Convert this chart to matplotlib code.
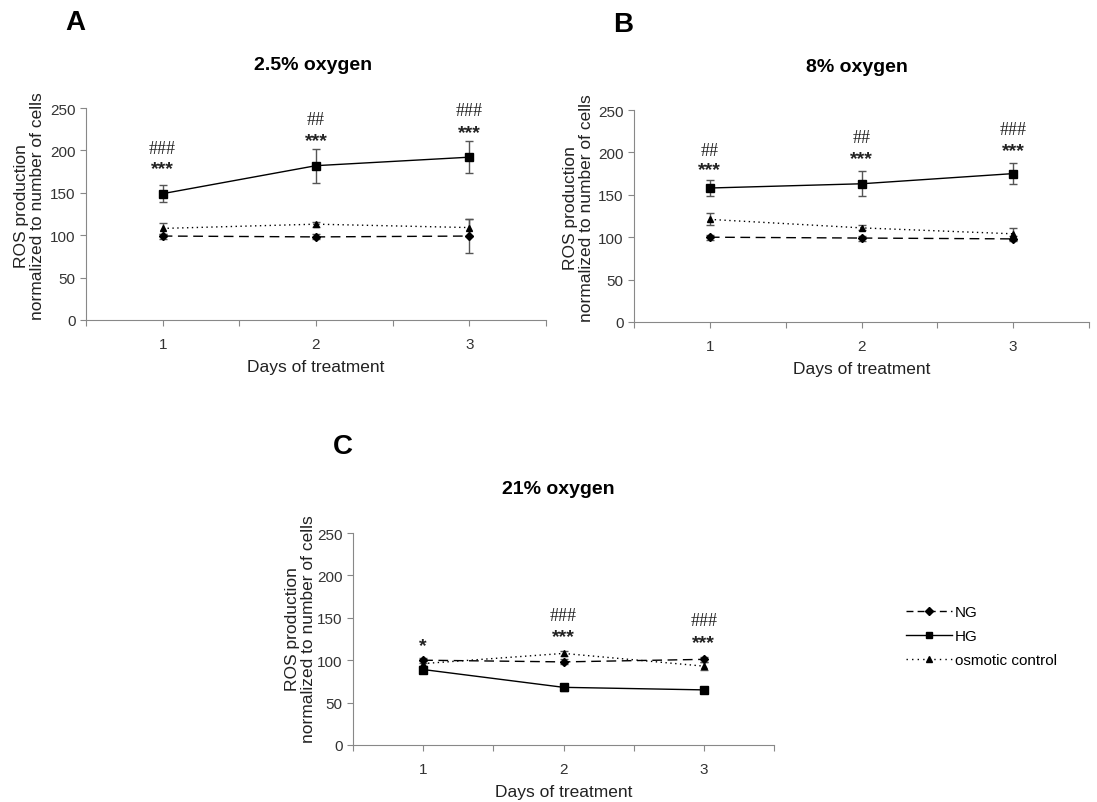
import matplotlib
matplotlib.use("Agg")
import matplotlib.pyplot as plt
from matplotlib.lines import Line2D

plt.rcParams['font.family'] = ['Liberation Sans', 'DejaVu Sans']

days = [1, 2, 3]

# panel A, 2.5% oxygen
a_ng = [99, 98, 99]
a_ng_err = [3, 3, 20]
a_hg = [149, 182, 192]
a_hg_err = [10, 20, 19]
a_osm = [108, 113, 109]
a_osm_err = [6, 3, 10]
a_marks = [("###", 202), ("***", 183), ("##", 237), ("***", 217), ("###", 247), ("***", 226)]

# panel B, 8% oxygen
b_ng = [100, 99, 98]
b_ng_err = [3, 3, 3]
b_hg = [158, 163, 175]
b_hg_err = [9, 15, 12]
b_osm = [121, 111, 104]
b_osm_err = [7, 3, 7]
b_marks = [("##", 202), ("***", 185), ("##", 218), ("***", 198), ("###", 227), ("***", 207)]

# panel C, 21% oxygen
c_ng = [100, 98, 101]
c_ng_err = [3, 3, 3]
c_hg = [89, 68, 65]
c_hg_err = [4, 4, 3]
c_osm = [96, 108, 93]
c_osm_err = [3, 3, 5]
c_marks = [("*", 122), ("###", 153), ("***", 133), ("###", 147), ("***", 126)]
c_mark_days = [1, 2, 2, 3, 3]

W, H = 1097, 803
fig = plt.figure(figsize=(W / 100, H / 100), dpi=100)


def box(l, t, r, b):
    return [l / W, 1 - b / H, (r - l) / W, (b - t) / H]


def panel(rect, ng, ng_err, hg, hg_err, osm, osm_err):
    ax = fig.add_axes(box(*rect))
    ekw = dict(ecolor='#555555', elinewidth=1, capsize=3, capthick=1)
    ax.errorbar(days, osm, yerr=osm_err, color='black', ls=(0, (1, 2.5)), lw=1,
                marker='^', ms=5, **ekw)
    ax.errorbar(days, ng, yerr=ng_err, color='black', ls=(0, (7, 4)), lw=1,
                marker='D', ms=4, **ekw)
    ax.errorbar(days, hg, yerr=hg_err, color='black', ls='-', lw=1,
                marker='s', ms=6, **ekw)
    ax.set_xlim(0.5, 3.5)
    ax.set_ylim(0, 250)
    ax.set_yticks([0, 50, 100, 150, 200, 250])
    ax.set_xticks([0.5, 1, 1.5, 2, 2.5, 3, 3.5])
    ax.set_xticklabels(['', '1', '', '2', '', '3', ''])
    for s in ['top', 'right']:
        ax.spines[s].set_visible(False)
    for s in ['left', 'bottom']:
        ax.spines[s].set_color('#888888')
    ax.tick_params(colors='#888888', labelcolor='#333333', labelsize=11, length=4)
    ax.tick_params(axis='x', pad=8)
    ax.set_xlabel('Days of treatment', fontsize=12.5, labelpad=6, color='#222222')
    ax.set_ylabel('ROS production\nnormalized to number of cells', fontsize=12.5,
                  color='#222222', linespacing=1.05)
    ax.yaxis.set_label_coords(-0.089, 0.54)
    return ax


def marks(ax, labels, xs):
    for (txt, y), x in zip(labels, xs):
        if '#' in txt:
            ax.text(x, y, txt, ha='center', va='center', fontsize=13,
                    family=['Liberation Serif'], color='#222222')
        else:
            ax.text(x, y - 5, txt, ha='center', va='center', fontsize=14,
                    fontweight='bold', color='#222222')


ax_a = panel((86, 109, 546, 321), a_ng, a_ng_err, a_hg, a_hg_err, a_osm, a_osm_err)
marks(ax_a, a_marks, [1, 1, 2, 2, 3, 3])
ax_b = panel((634, 111, 1089, 323), b_ng, b_ng_err, b_hg, b_hg_err, b_osm, b_osm_err)
marks(ax_b, b_marks, [1, 1, 2, 2, 3, 3])
ax_c = panel((353, 534, 774, 746), c_ng, c_ng_err, c_hg, c_hg_err, c_osm, c_osm_err)
ax_c.yaxis.set_label_coords(-0.088, 0.55)
marks(ax_c, c_marks, c_mark_days)

fig.text(313 / W, 1 - 65 / H, '2.5% oxygen', ha='center', va='center', fontsize=14, fontweight='bold')
fig.text(857 / W, 1 - 67 / H, '8% oxygen', ha='center', va='center', fontsize=14, fontweight='bold')
fig.text(558 / W, 1 - 490 / H, '21% oxygen', ha='center', va='center', fontsize=14, fontweight='bold')
fig.text(75 / W, 1 - 23 / H, 'A', ha='center', va='center', fontsize=20, fontweight='bold')
fig.text(623 / W, 1 - 25 / H, 'B', ha='center', va='center', fontsize=20, fontweight='bold')
fig.text(343 / W, 1 - 447 / H, 'C', ha='center', va='center', fontsize=20, fontweight='bold')

handles = [
    Line2D([], [], color='black', ls=(0, (5, 3)), lw=1, marker='D', ms=4),
    Line2D([], [], color='black', ls='-', lw=1, marker='s', ms=5),
    Line2D([], [], color='black', ls=(0, (1, 3)), lw=1, marker='^', ms=5),
]
fig.legend(handles, ['NG', 'HG', 'osmotic control'], loc='center left',
           bbox_to_anchor=(892 / W, 1 - 637 / H), frameon=False, fontsize=11,
           handlelength=3.0, handletextpad=0.2, labelspacing=0.65)

fig.savefig('out.png', dpi=100)
